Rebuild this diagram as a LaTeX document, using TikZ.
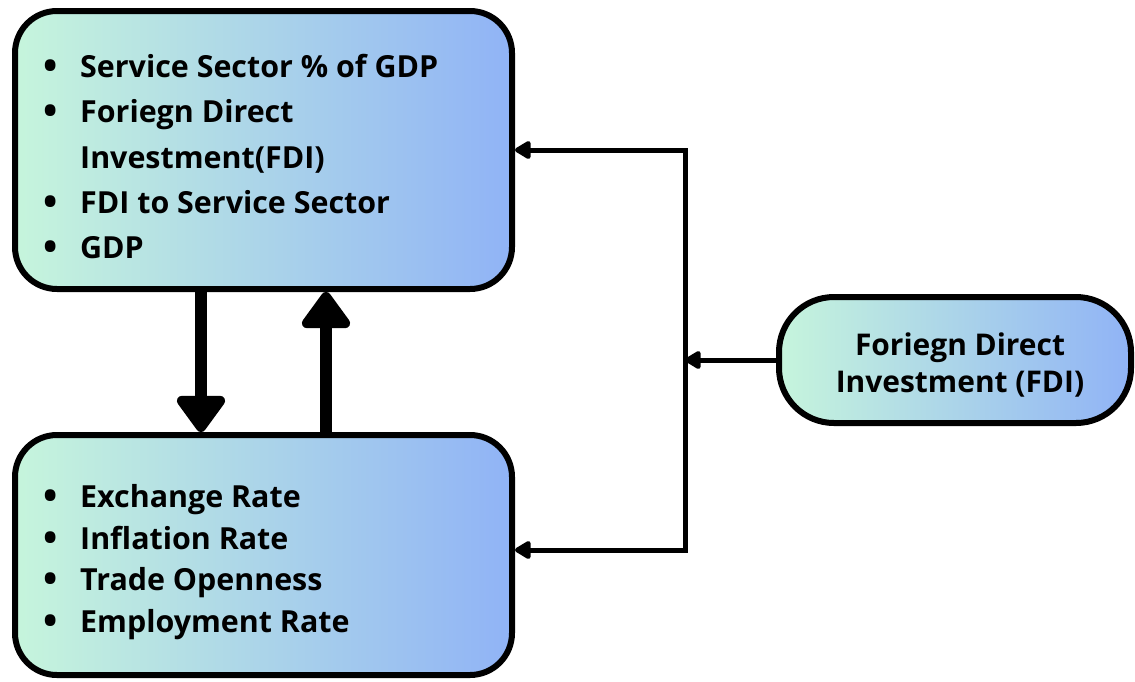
\documentclass[tikz,border=0pt]{standalone}
\usepackage{fontspec}
\setmainfont{Open Sans}
\usetikzlibrary{arrows.meta}
\definecolor{mint}{HTML}{C6F5DC}
\definecolor{sky}{HTML}{90B3F6}
\tikzset{
  panel/.style={draw=black, line width=6pt, left color=mint, right color=sky,
    rounded corners=42pt, inner sep=0pt},
  listline/.style={anchor=base west, inner sep=0pt, font=\listfont},
  bigarrow/.style={line width=12pt, -{Triangle[width=55pt,length=40pt,round]}},
  thinarrow/.style={line width=5pt, -{Triangle[width=20pt,length=18pt,round]}},
  thinline/.style={line width=5pt},
}
\newcommand{\itm}[1]{\makebox[43pt][l]{\hspace{6pt}\raisebox{-2.4pt}{\scalebox{1.25}{\textbullet}}}#1}
\newlength\probe
\begin{document}
\settowidth\probe{\bfseries\fontsize{10}{12}\selectfont Service Sector \% of GDP}
\pgfmathsetmacro\listsize{10*358/\probe}
\newcommand{\listfont}{\bfseries\fontsize{\listsize}{\listsize}\selectfont}
\settowidth\probe{\bfseries\fontsize{10}{12}\selectfont Foriegn Direct}
\pgfmathsetmacro\fdisize{10*210/\probe}
\newcommand{\fdifont}{\bfseries\fontsize{\fdisize}{37}\selectfont}
\begin{tikzpicture}[x=1pt,y=-1pt]
  \useasboundingbox (0,0) rectangle (1135,681);
  % boxes
  \node[panel, minimum width=497pt, minimum height=278pt] (top) at (263.5,150) {};
  \node[panel, minimum width=497pt, minimum height=240pt] (bot) at (263.5,555) {};
  \node[panel, minimum width=352pt, minimum height=126pt, rounded corners=55pt] (fdi) at (955,360) {};
  % upper list
  \node[listline] (t1) at (37,77) {\itm{Service Sector \% of GDP}};
  \node[listline] (t2) at (37,122) {\itm{Foriegn Direct}};
  \node[listline] (t3) at (80,168) {Investment(FDI)};
  \node[listline] (t4) at (37,213) {\itm{FDI to Service Sector}};
  \node[listline] (t5) at (37,258) {\itm{GDP}};
  % lower list
  \node[listline] (b1) at (37,507) {\itm{Exchange Rate}};
  \node[listline] (b2) at (37,549) {\itm{Inflation Rate}};
  \node[listline] (b3) at (37,590) {\itm{Trade Openness}};
  \node[listline] (b4) at (37,632) {\itm{Employment Rate}};
  % FDI label
  \node[anchor=base, inner sep=0pt, font=\fdifont] (f1) at (960,355) {Foriegn Direct};
  \node[anchor=base, inner sep=0pt, font=\fdifont] (f2) at (960,392) {Investment (FDI)};
  % arrows between the two panels
  \draw[bigarrow] ([xshift=189pt]top.south west) -- ([xshift=189pt]bot.north west);
  \draw[bigarrow] ([xshift=314pt]bot.north west) -- ([xshift=314pt]top.south west);
  % feed from the FDI box
  \coordinate (jt) at (685,150);
  \coordinate (jm) at (685,360);
  \coordinate (jb) at (685,550);
  \draw[thinline, line cap=rect] (jt) -- (jb);
  \draw[thinarrow] (fdi.west) -- (jm);
  \draw[thinarrow] (jt) -- (jt -| top.east);
  \draw[thinarrow] (jb) -- (jb -| bot.east);
\end{tikzpicture}
\end{document}
